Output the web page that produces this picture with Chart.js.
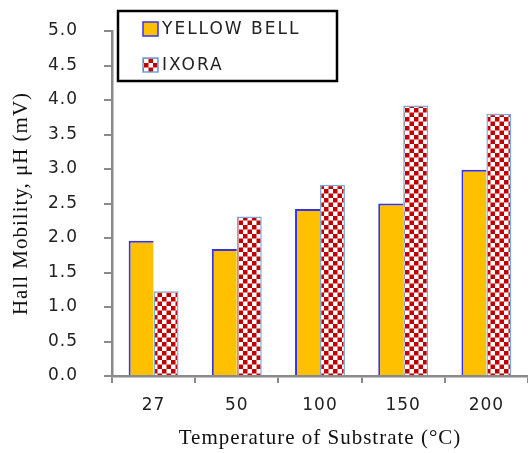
<!DOCTYPE html>
<html>
<head>
<meta charset="utf-8">
<script src="https://cdn.jsdelivr.net/npm/chart.js@4.4.1/dist/chart.umd.min.js"></script>
<style>
  html, body { margin: 0; padding: 0; background: #fff; }
  #wrap { width: 528px; height: 453px; }
</style>
</head>
<body>
<div id="wrap"><canvas id="chart" width="528" height="453"></canvas></div>
<script>
// values
const temperatures = ['27', '50', '100', '150', '200'];
const yellowBell = [1.96, 1.84, 2.42, 2.50, 2.99];
const ixora = [1.23, 2.31, 2.77, 3.92, 3.80];
const seriesNames = ['YELLOW BELL', 'IXORA'];

// red/white checker fill for the second series
function checker() {
  const c = document.createElement('canvas');
  c.width = 9; c.height = 9;
  const g = c.getContext('2d');
  g.fillStyle = '#fff';
  g.fillRect(0, 0, 9, 9);
  g.fillStyle = '#c00000';
  g.fillRect(0, 0, 4.5, 4.5);
  g.fillRect(4.5, 4.5, 4.5, 4.5);
  return g.createPattern(c, 'repeat');
}
const checkFill = checker();

// wider letter spacing like the original rendering
const spacing = {
  id: 'spacing',
  beforeLayout(chart) { chart.ctx.letterSpacing = '1px'; },
  beforeDraw(chart) { chart.ctx.letterSpacing = '1px'; }
};

// legend box drawn inside the plot, top-left
const boxLegend = {
  id: 'boxLegend',
  afterDraw(chart) {
    const ctx = chart.ctx;
    ctx.save();
    ctx.fillStyle = '#fff';
    ctx.fillRect(118, 11, 219, 70);
    ctx.strokeStyle = '#000';
    ctx.lineWidth = 2.5;
    ctx.strokeRect(118, 11, 219, 70);
    ctx.font = '17px "DejaVu Sans", Verdana, sans-serif';
    ctx.letterSpacing = '2px';
    ctx.textBaseline = 'middle';
    chart.data.datasets.forEach((ds, i) => {
      const y = 29 + i * 36;
      ctx.fillStyle = ds.backgroundColor;
      ctx.fillRect(143, y - 7, 15, 14);
      ctx.strokeStyle = i === 0 ? '#3333ff' : '#6fa0d8';
      ctx.lineWidth = 1.5;
      ctx.strokeRect(143, y - 7, 15, 14);
      ctx.fillStyle = '#222';
      ctx.fillText(ds.label, 162, y + 1);
    });
    ctx.restore();
  }
};

new Chart(document.getElementById('chart'), {
  type: 'bar',
  data: {
    labels: temperatures,
    datasets: [
      {
        label: seriesNames[0],
        data: yellowBell,
        backgroundColor: '#ffc000',
        borderColor: '#3333ee',
        borderWidth: { left: 2, top: 2, right: 0, bottom: 0 },
        borderSkipped: false
      },
      {
        label: seriesNames[1],
        data: ixora,
        backgroundColor: checkFill,
        borderColor: '#7fa8d8',
        borderWidth: 1.5,
        borderSkipped: 'bottom'
      }
    ]
  },
  plugins: [spacing, boxLegend],
  options: {
    responsive: false,
    animation: false,
    layout: { padding: { top: 31, right: 0, left: 0, bottom: 0 } },
    plugins: {
      legend: { display: false },
      tooltip: { enabled: false }
    },
    datasets: {
      bar: { barPercentage: 1.0, categoryPercentage: 0.6 }
    },
    scales: {
      x: {
        afterFit(s) { s.height = 77; },
        grid: {
          drawOnChartArea: false,
          tickLength: 7,
          color: '#8a8a8a',
          lineWidth: 2
        },
        border: { color: '#8a8a8a', width: 2.5 },
        ticks: {
          color: '#222',
          font: { family: '"DejaVu Sans", Verdana, sans-serif', size: 17 },
          padding: 12
        },
        title: {
          display: true,
          text: 'Temperature of Substrate (°C)',
          color: '#111',
          font: { family: '"Liberation Serif", "Times New Roman", serif', size: 21 },
          padding: { top: 0, bottom: 2 }
        }
      },
      y: {
        min: 0,
        max: 5,
        afterFit(s) { s.width = 112; s.paddingTop = 0; s.paddingBottom = 0; },
        grid: {
          drawOnChartArea: false,
          tickLength: 8,
          color: '#8a8a8a',
          lineWidth: 2
        },
        border: { color: '#8a8a8a', width: 2.5 },
        ticks: {
          stepSize: 0.5,
          color: '#222',
          font: { family: '"DejaVu Sans", Verdana, sans-serif', size: 17 },
          padding: 26,
          callback: v => v.toFixed(1)
        },
        title: {
          display: true,
          text: 'Hall Mobility, μH (mV)',
          color: '#111',
          font: { family: '"Liberation Serif", "Times New Roman", serif', size: 21 },
          padding: { top: 9, bottom: 4 }
        }
      }
    }
  }
});
</script>
</body>
</html>
